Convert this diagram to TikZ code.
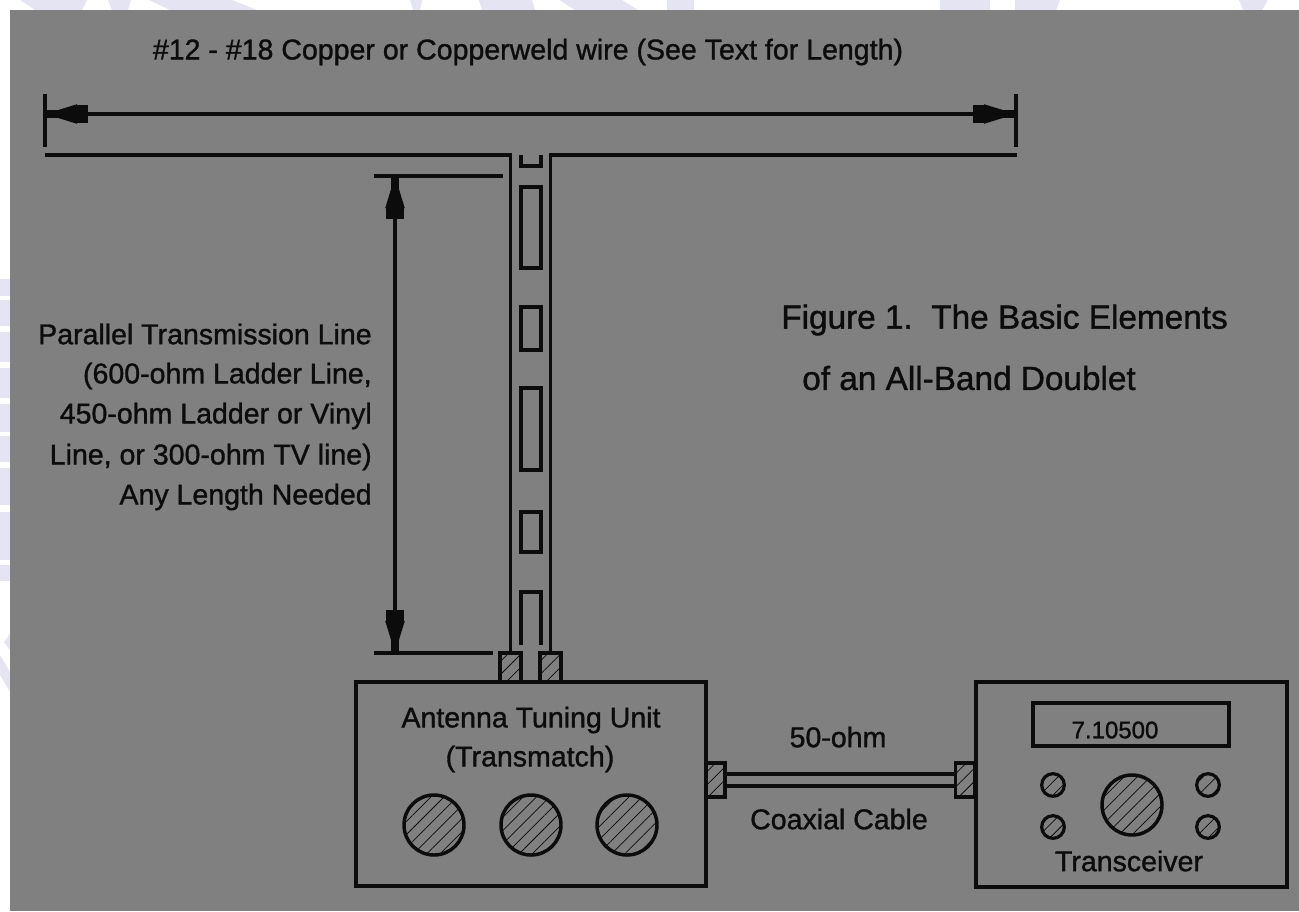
\documentclass[tikz,border=0pt]{standalone}
\usepackage{fontspec}
\setmainfont[FakeBold=1.2]{Liberation Sans}
\usepackage{xcolor}
\usetikzlibrary{arrows.meta, positioning, calc, patterns.meta}
\definecolor{panelgray}{RGB}{128, 128, 128}
\definecolor{inkdark}{RGB}{12, 12, 12}
\definecolor{washlav}{RGB}{228, 228, 242}
\tikzset{
  dimhead/.tip={Rectangle[length=8pt, width=13.5pt] Triangle[length=24pt, width=14pt, sep=-12pt] Rectangle[length=12pt, width=6pt]},
  wire/.style={draw=inkdark, line width=2.4pt},
  dimline/.style={draw=inkdark, line width=2.4pt, dimhead-dimhead},
  hatched/.style={pattern={Lines[angle=45, distance=7pt, line width=0.55pt]}, pattern color=inkdark},
  hatchblock/.style={draw=inkdark, line width=2.4pt, hatched, inner sep=0pt},
  knob/.style={circle, draw=inkdark, line width=2.6pt, hatched, inner sep=0pt, minimum size=45pt},
  smallknob/.style={circle, draw=inkdark, line width=2.4pt, hatched, inner sep=0pt, minimum size=17pt},
  unitbox/.style={draw=inkdark, line width=2.6pt, inner sep=0pt},
  label/.style={text=inkdark, font=\fontsize{21.4pt}{26pt}\selectfont, inner sep=0pt},
  title/.style={text=inkdark, font=\fontsize{25pt}{30pt}\selectfont, inner sep=0pt}
}

\begin{document}
\begin{tikzpicture}[x=0.75pt, y=-0.75pt]

  \useasboundingbox (0,0) rectangle (1299,911);

  % --- pale wash showing round the panel ---
  \foreach \xa/\xb/\xc/\xd in {20/35/87/82, 108/112/131/128, 149/170/232/257, 410/413/422/420, 479/482/532/535, 559/575/622/638, 667/667/694/694, 940/940/990/990, 1015/1015/1060/1056, 1239/1243/1268/1262}
    \fill[washlav] (\xa,0) -- (\xc,0) -- (\xd,10) -- (\xb,10) -- cycle;
  \foreach \ya/\yb in {279/296, 300/326, 332/362, 368/398, 404/432, 436/462, 468/505, 512/560, 565/581}
    \fill[washlav] (0,\ya) rectangle (10,\yb);
  \fill[washlav] (10,634) -- (4,642) -- (10,650) -- cycle;
  \fill[washlav] (0,655) -- (10,672) -- (10,692) -- (0,675) -- cycle;

  % --- panel ---
  \fill[panelgray] (10,10) rectangle (1299,911);

  % --- boxes ---
  \node[unitbox, minimum width=262.5pt, minimum height=153pt] (atu) at (531,784) {};
  \node[unitbox, minimum width=233.25pt, minimum height=153.75pt] (xcvr) at (1131.5,784.5) {};
  \node[unitbox, minimum width=147pt, minimum height=32.25pt] (display) at (1131,724.5) {};

  % --- connector blocks ---
  \node[hatchblock, minimum width=15.75pt, minimum height=21.75pt] (stubl) at (510.5,667.5) {};
  \node[hatchblock, minimum width=15.75pt, minimum height=21.75pt] (stubr) at (550.5,667.5) {};
  \node[hatchblock, minimum width=14.25pt, minimum height=25.5pt] (atuport) at (715.5,780) {};
  \node[hatchblock, minimum width=14.25pt, minimum height=25.5pt] (xcvrport) at (965,780) {};

  % --- knobs ---
  \node[knob] (tunea) at (434,825) {};
  \node[knob] (tuneb) at (531,825) {};
  \node[knob] (tunec) at (627,825) {};
  \node[knob] (dial) at (1132,805) {};
  \node[smallknob] (knoba) at (1053,785) {};
  \node[smallknob] (knobb) at (1053,827) {};
  \node[smallknob] (knobc) at (1208,785) {};
  \node[smallknob] (knobd) at (1208,827) {};

  % --- antenna and ladder line ---
  \coordinate (wireleft) at (45,155);
  \coordinate (wireright) at (1017,155);
  \draw[wire] (wireleft) -- (wireleft -| stubl) -- (stubl.north);
  \draw[wire] (wireright) -- (wireright -| stubr) -- (stubr.north);

  % --- rungs ---
  \draw[wire] (521,155) -- (521,166) -- (541,166) -- (541,155);
  \foreach \ya/\yb in {187/268, 307/350, 388/470, 512/552}
    \draw[wire] (521,\ya) rectangle (541,\yb);
  \draw[wire] (521,645) -- (521,592) -- (541,592) -- (541,645);

  % --- coax ---
  \draw[wire] ([yshift=-4.5pt]atuport.east) -- ([yshift=-4.5pt]atuport.east -| xcvrport.west);
  \draw[wire] ([yshift=4.5pt]atuport.east) -- ([yshift=4.5pt]atuport.east -| xcvrport.west);

  % --- length dimension ---
  \coordinate (tickla) at (45,94);
  \coordinate (ticklb) at (45,147);
  \coordinate (tickra) at (1016,94);
  \coordinate (tickrb) at (1016,147);
  \draw[wire] (tickla) -- (ticklb);
  \draw[wire] (tickra) -- (tickrb);
  \coordinate (diml) at (45,114);
  \coordinate (dimr) at (1016,114);
  \draw[dimline] (diml) -- (dimr);

  % --- feeder dimension ---
  \coordinate (feedta) at (374,176);
  \coordinate (feedtb) at (503,176);
  \coordinate (feedba) at (374,653);
  \coordinate (feedbb) at (493,653);
  \draw[wire] (feedta) -- (feedtb);
  \draw[wire] (feedba) -- (feedbb);
  \coordinate (feedt) at (395,176);
  \coordinate (feedb) at (395,653);
  \draw[dimline] (feedt) -- (feedb);

  % --- labels ---
  \node[label] (wirelabel) at (528,52) {\#12 - \#18 Copper or Copperweld wire (See Text for Length)};
  \node[label, anchor=east] (feeda) at (372,334) {Parallel Transmission Line};
  \node[label, anchor=east] (feedc) at (372,376) {(600-ohm Ladder Line,};
  \node[label, anchor=east] (feedd) at (372,416) {450-ohm Ladder or Vinyl};
  \node[label, anchor=east] (feede) at (372,457) {Line, or 300-ohm TV line)};
  \node[label, anchor=east] (feedf) at (372,497) {Any Length Needed};
  \node[title, anchor=west] (figa) at (781,320) {Figure 1.\ \ The Basic Elements};
  \node[title, anchor=west] (figb) at (802,378) {of an All-Band Doublet};
  \node[label] (atua) at (531,720) {Antenna Tuning Unit};
  \node[label] (atub) at (530,759) {(Transmatch)};
  \node[label] (coaxa) at (838,737) {50-ohm};
  \node[label] (coaxb) at (839,819) {Coaxial Cable};
  \node[label, font=\fontsize{18pt}{22pt}\selectfont] (freq) at (1115,730) {7.10500};
  \node[label] (xcvrname) at (1129,861) {Transceiver};

\end{tikzpicture}
\end{document}
